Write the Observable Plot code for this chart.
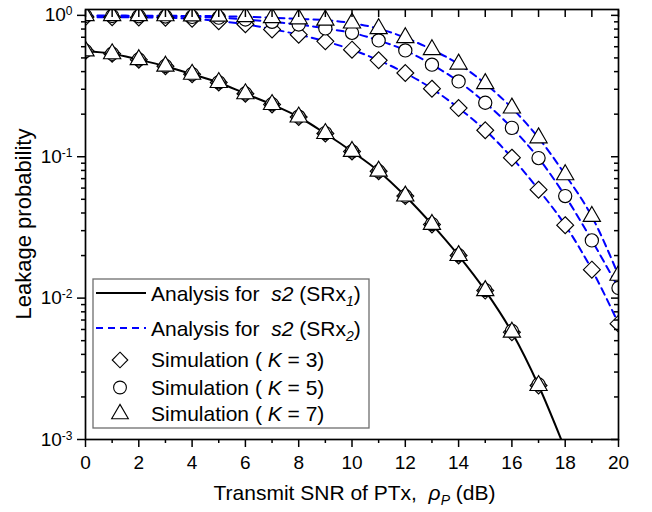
<!DOCTYPE html>
<html><head><meta charset="utf-8">
<script src="https://cdn.jsdelivr.net/npm/d3@7"></script>
<script src="https://cdn.jsdelivr.net/npm/@observablehq/plot@0.6"></script>
<style>
body{margin:0;background:#fff;}
#chart{width:652px;height:512px;}
</style></head><body><div id="chart"></div>
<script>
// ---- data ----
const snrDb = [0,1,2,3,4,5,6,7,8,9,10,11,12,13,14,15,16,17,18,19,20];
const analysisSRx1 = [0.56,0.535,0.486,0.437,0.383,0.335,0.279,0.234,0.191,0.146,0.109,0.079,0.0527,0.0332,0.0200,0.0113,0.00574,0.00241,0.00085];
const analysisSRx2K3 = [0.972,0.970,0.967,0.962,0.945,0.910,0.865,0.800,0.730,0.655,0.572,0.481,0.391,0.303,0.221,0.154,0.0985,0.0585,0.0328,0.0159,0.0066];
const analysisSRx2K5 = [0.990,0.989,0.986,0.981,0.975,0.963,0.935,0.900,0.862,0.808,0.752,0.665,0.565,0.448,0.341,0.241,0.160,0.0978,0.0527,0.0256,0.0118];
const analysisSRx2K7 = [0.996,0.996,0.995,0.993,0.990,0.986,0.978,0.963,0.945,0.925,0.882,0.805,0.695,0.572,0.452,0.329,0.221,0.136,0.0746,0.0378,0.0145];
const simSRx1K3 = [0.56,0.535,0.486,0.437,0.383,0.335,0.279,0.234,0.191,0.146,0.109,0.079,0.0527,0.0332,0.0200,0.0113,0.00574,0.00241];
const simSRx1K5 = [0.56,0.535,0.487,0.438,0.384,0.336,0.280,0.235,0.192,0.147,0.109,0.079,0.0528,0.0334,0.0201,0.0114,0.00585,0.00245];
const simSRx1K7 = [0.56,0.535,0.486,0.437,0.383,0.335,0.279,0.234,0.191,0.146,0.109,0.079,0.0527,0.0332,0.0200,0.0113,0.00574,0.00241];
const simSRx2K3 = [0.972,0.970,0.967,0.962,0.945,0.910,0.865,0.795,0.730,0.655,0.572,0.481,0.391,0.303,0.221,0.154,0.0985,0.0585,0.0328,0.0159,0.0066];
const simSRx2K5 = [0.990,0.989,0.986,0.981,0.975,0.963,0.935,0.900,0.862,0.808,0.752,0.665,0.565,0.448,0.341,0.241,0.160,0.0978,0.0527,0.0256,0.0118];
const simSRx2K7 = [0.996,0.996,0.995,0.993,0.990,0.986,0.978,0.963,0.945,0.925,0.882,0.805,0.695,0.572,0.452,0.329,0.221,0.136,0.0746,0.0378,0.0145];
const kValues = [3,5,7];
const xMajorTicks = [0,2,4,6,8,10,12,14,16,18,20];
const xMinorTicks = [1,3,5,7,9,11,13,15,17,19];
const yMajorTicks = [1e-3,1e-2,1e-1,1];
const yMinorTicks = [2e-3,3e-3,4e-3,5e-3,6e-3,7e-3,8e-3,9e-3,2e-2,3e-2,4e-2,5e-2,6e-2,7e-2,8e-2,9e-2,0.2,0.3,0.4,0.5,0.6,0.7,0.8,0.9];
const xLabelText = ["Transmit SNR of PTx,  ", "ρ", "P", " (dB)"];
const yLabelText = "Leakage probability";
const legendLines = [["Analysis for  ", "s2", " (SRx", "1", ")"], ["Analysis for  ", "s2", " (SRx", "2", ")"]];
const legendSims = ["Simulation (", "K", " = ", ")"];

// ---- tables ----
const tbl = (xs, ys, extra) => ys.map((y, i) => ({x: xs[i], y, ...extra}));
const lineSRx1 = tbl(snrDb, analysisSRx1, {});
const linesSRx2 = [analysisSRx2K3, analysisSRx2K5, analysisSRx2K7].flatMap((a, j) => tbl(snrDb, a, {k: kValues[j]}));
const simK3 = [...tbl(snrDb, simSRx1K3, {}), ...tbl(snrDb, simSRx2K3, {})];
const simK5 = [...tbl(snrDb, simSRx1K5, {}), ...tbl(snrDb, simSRx2K5, {})];
const simK7 = [...tbl(snrDb, simSRx1K7, {}), ...tbl(snrDb, simSRx2K7, {})];

const FONT = "'Liberation Sans', Arial, Helvetica, sans-serif";
const mL = 85, mR = 34, mT = 9, mB = 73, W = 652, H = 512;
const blue = "#0000ff";
const rD = 7.6, rC = 6.6, rT = 6.4;

const plot = Plot.plot({
  width: W, height: H,
  marginLeft: mL, marginRight: mR, marginTop: mT, marginBottom: mB,
  style: {fontFamily: FONT, fontSize: "19px", color: "#000", background: "#fff", overflow: "visible"},
  x: {domain: [0, 20], label: null},
  y: {type: "log", domain: [1e-3, 1.1], label: null},
  marks: [
    Plot.line(lineSRx1, {x: "x", y: "y", stroke: "#000", strokeWidth: 2, curve: "monotone-x", clip: true}),
    Plot.line(linesSRx2, {x: "x", y: "y", z: "k", stroke: blue, strokeWidth: 2, strokeDasharray: "7,5", curve: "monotone-x", clip: true}),
    Plot.dot(simK3, {x: "x", y: "y", symbol: "diamond2", r: rD, stroke: "#000", fill: "#fff", strokeWidth: 1.15, clip: true}),
    Plot.dot(simK5, {x: "x", y: "y", symbol: "circle", r: rC, stroke: "#000", fill: "#fff", strokeWidth: 1.15, clip: true}),
    Plot.dot(simK7, {x: "x", y: "y", symbol: "triangle", r: rT, stroke: "#000", fill: "#fff", strokeWidth: 1.15, clip: true}),
    // bottom axis (outward)
    Plot.axisX({ticks: xMajorTicks, tickSize: 8, tickPadding: 8, tickFormat: d => String(d), label: null, strokeWidth: 1.5}),
    Plot.axisX({ticks: xMinorTicks, tickSize: 4, tickFormat: () => "", label: null, strokeWidth: 1.5}),
    // top axis (inward)
    Plot.axisX({anchor: "top", ticks: snrDb, tickSize: 7, dy: 7, tickFormat: () => "", label: null, strokeWidth: 1.5}),
    // left axis (outward)
    Plot.axisY({ticks: yMajorTicks, tickSize: 8, tickPadding: 5, tickFormat: d => String(Math.round(Math.log10(d))), label: null, strokeWidth: 1.5}),
    Plot.axisY({ticks: yMinorTicks, tickSize: 4, tickFormat: () => "", label: null, strokeWidth: 1.5}),
    // right axis (inward)
    Plot.axisY({anchor: "right", ticks: yMajorTicks, tickSize: 8, dx: -8, tickFormat: () => "", label: null, strokeWidth: 1.5}),
    Plot.axisY({anchor: "right", ticks: yMinorTicks, tickSize: 5, dx: -5, tickFormat: () => "", label: null, strokeWidth: 1.5}),
    Plot.frame({stroke: "#000", strokeWidth: 1.7})
  ]
});

const svg = d3.select(plot);
// superscripted y tick labels
svg.selectAll('g[aria-label="y-axis tick label"] text').each(function () {
  const e = this.textContent;
  if (e === "") return;
  const t = d3.select(this);
  t.text("10");
  t.append("tspan").attr("dy", "-0.5em").attr("font-size", "12px").text(e);
});

// axis titles
const xl = svg.append("text").attr("x", (mL + W - mR) / 2 + 3).attr("y", 500)
  .attr("text-anchor", "middle").attr("font-family", FONT).attr("font-size", 21).attr("fill", "#000")
  .style("white-space", "pre");
xl.append("tspan").text(xLabelText[0]);
xl.append("tspan").attr("font-style", "italic").text(xLabelText[1]);
xl.append("tspan").attr("font-style", "italic").attr("font-size", 14).attr("dy", 5).text(xLabelText[2]);
xl.append("tspan").attr("dy", -5).text(xLabelText[3]);

svg.append("text").attr("transform", `translate(31,${(mT + H - mB) / 2}) rotate(-90)`)
  .attr("text-anchor", "middle").attr("font-family", FONT).attr("font-size", 22).attr("fill", "#000")
  .text(yLabelText);

// legend
const lg = svg.append("g").attr("font-family", FONT).attr("font-size", 21).attr("fill", "#000")
  .attr("text-anchor", "start").style("white-space", "pre");
lg.append("rect").attr("x", 93).attr("y", 279).attr("width", 276).attr("height", 149)
  .attr("fill", "#fff").attr("stroke", "#6e6e6e").attr("stroke-width", 1.3);
const lineRowsY = [293, 328];
const lineStyles = [{stroke: "#000", dash: null}, {stroke: blue, dash: "7,5"}];
legendLines.forEach((parts, i) => {
  lg.append("line").attr("x1", 96).attr("x2", 146).attr("y1", lineRowsY[i]).attr("y2", lineRowsY[i])
    .attr("stroke", lineStyles[i].stroke).attr("stroke-width", 2).attr("stroke-dasharray", lineStyles[i].dash);
  const t = lg.append("text").attr("x", 151).attr("y", lineRowsY[i] + 8).attr("text-anchor", "start");
  t.append("tspan").text(parts[0]);
  t.append("tspan").attr("font-style", "italic").text(parts[1]);
  t.append("tspan").text(parts[2]);
  t.append("tspan").attr("font-style", "italic").attr("font-size", 14).attr("dy", 5).text(parts[3]);
  t.append("tspan").attr("dy", -5).text(parts[4]);
});
const simRowsY = [360, 387.5, 414];
const symbols = [[d3.symbolDiamond2, 7.0], [d3.symbolCircle, 6.4], [d3.symbolTriangle, 6.2]];
kValues.forEach((k, i) => {
  lg.append("path").attr("transform", `translate(120,${simRowsY[i]})`)
    .attr("d", d3.symbol(symbols[i][0], Math.PI * symbols[i][1] ** 2)())
    .attr("fill", "#fff").attr("stroke", "#000").attr("stroke-width", 1.1);
  const t = lg.append("text").attr("x", 151).attr("y", simRowsY[i] + 7).attr("text-anchor", "start");
  t.append("tspan").text(legendSims[0]);
  t.append("tspan").attr("font-style", "italic").text(" " + legendSims[1]);
  t.append("tspan").text(legendSims[2] + k + legendSims[3]);
});

document.getElementById("chart").appendChild(plot);
</script>
</body></html>
